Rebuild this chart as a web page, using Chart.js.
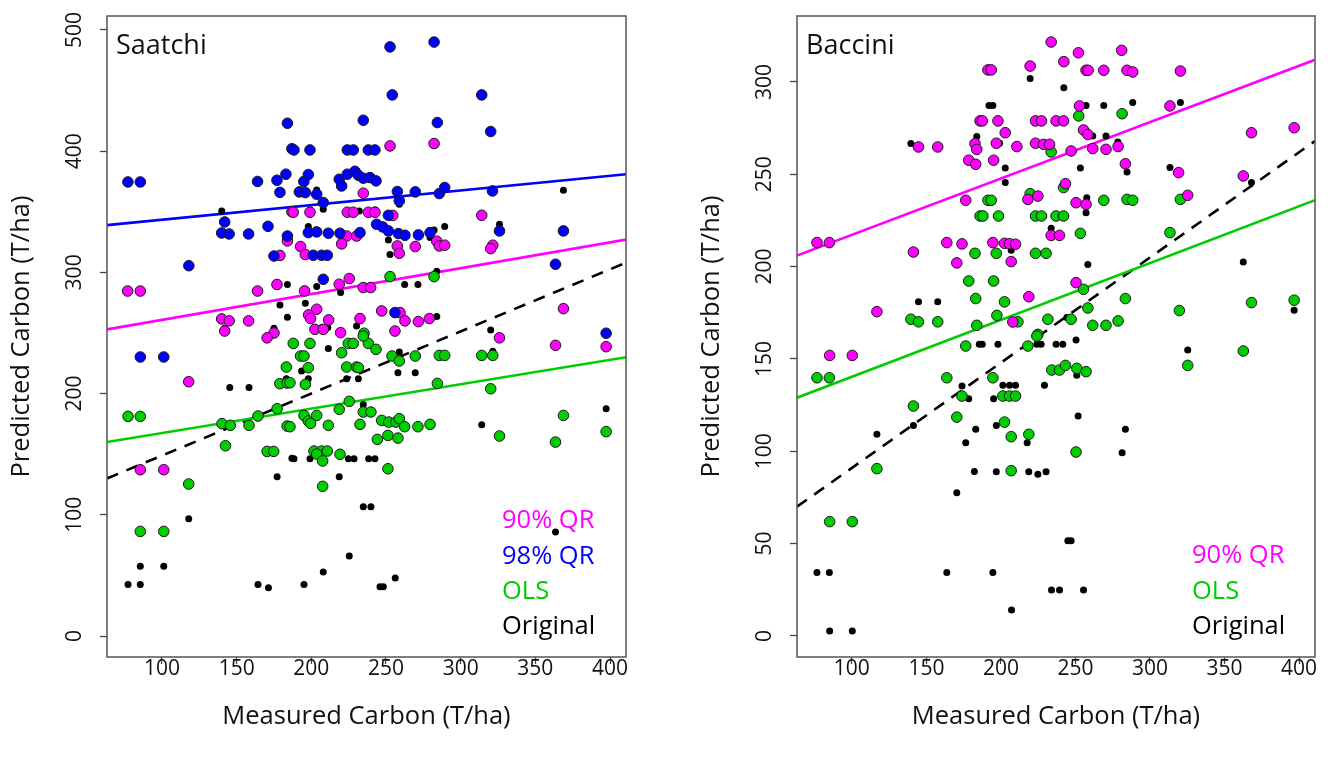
<!DOCTYPE html>
<html>
<head>
<meta charset="utf-8">
<script src="https://cdn.jsdelivr.net/npm/chart.js@4.4.1/dist/chart.umd.min.js"></script>
<style>
  html, body { margin: 0; padding: 0; background: #fff; }
  .panel { position: absolute; top: 0; height: 760px; }
  #leftPanel { left: 0; width: 668px; }
  #rightPanel { left: 690px; width: 647px; }
</style>
</head>
<body>
<div class="panel" id="leftPanel"><canvas id="saatchiChart"></canvas></div>
<div class="panel" id="rightPanel"><canvas id="bacciniChart"></canvas></div>
<script>
const FONT = "'Open Sans', 'DejaVu Sans', sans-serif";

// tick labels
const xTicks = [100, 150, 200, 250, 300, 350, 400];
const saatchiYTicks = [0, 100, 200, 300, 400, 500];
const bacciniYTicks = [0, 50, 100, 150, 200, 250, 300];

// axis ranges (R style 4% padding)
const xRange = [63.2, 410.7];
const saatchiYRange = [-17.3, 511.5];
const bacciniYRange = [-11.4, 335.7];

// fitted lines: predicted value at left and right edge of x range
const saatchiQR98Line = [339, 381];
const saatchiQR90Line = [253, 327];
const saatchiOLSLine = [160, 230];
const saatchiOrigLine = [130, 308];
const bacciniQR90Line = [206, 312];
const bacciniOLSLine = [129, 236];
const bacciniOrigLine = [70, 268];

// Saatchi panel points [measured, predicted]
const saatchiQR98 = [[77.2,374.6],[85.5,374.6],[164,375],[177,376],[183,381],[179,366],[184,423],[187,402],[142,341.6],[140,332.5],[145,331.7],[158,331.7],[171,338],[184,330],[175,313.5],[118,305.5],
  [252.7,486],[282.2,490],[254.2,446.4],[234.8,425.5],[284.4,423.6],[188.4,401],[199.1,401],[224.1,401],[228.1,401],[238.2,401],[242.6,401],
  [198,380.7],[195,375],[192,366.4],[196,365.8],[203.6,364.5],[208,357.6],[218.7,376.8],[224.1,381],[229.2,383.4],[231.5,380.1],[234.8,377.7],[239.3,378.2],[243.3,375.5],[220.3,371.3],[257.6,366.7],[258.9,359],[269.6,366.4],[285.7,365],[289.3,370],[251.6,347.1],[243.7,339.7],[247.8,337.5],[251.6,334.2],[258.3,332],[262.7,330.6],[198,332.8],[203.6,333.4],[211.4,332.3],[219.2,332.3],[232.6,332.8],[271.7,330.9],[279.5,332.8],[201.3,314.1],[206.9,314.1],[210.7,314.1],[208,294.3],[256,266.8],
  [314.1,446.4],[320.1,416.2],[321.3,367.2],[326,334.2],[368.8,334.2],[363.5,306.7],[397.4,249.8],[85.5,230.2],[101.2,230.2]];

const saatchiQR90 = [[77,284.6],[85.5,284.6],[164,284.6],[177,290],[187,350],[184,326],[179,314],[140,261.6],[145,260],[158,260],[142,251.6],[175,250],[170.4,246],
  [252.7,404.3],[282.2,406.3],[234.8,365.3],[187.9,349.6],[199.1,349.6],[224.1,349.6],[228.1,349.6],[238.2,349.6],[242.6,349.6],[254.5,347],[223.7,330],[230.3,330],[192.8,321.3],[196,314.7],[220.3,323.5],[257.6,321.8],[258.9,315.8],[269.6,321.3],[284,325.7],[285.7,321.8],[289.3,322.4],[218.7,290.2],[225.4,294.9],[195.5,284.7],[234.8,287.5],[239.7,287.5],[203.6,269.6],[198.2,264.9],[199.5,261.9],[211.6,260.8],[232.6,261.9],[247.1,268.2],[259.4,266.8],[262.7,260],[271.7,259.4],[279,261.9],[219.6,250.3],[202.4,253],[208,253],[256,251.6],
  [314.1,347.1],[321.5,322.4],[320.1,319.6],[368.8,270.1],[326,246],[363.5,239.8],[397.4,238.7],[117.9,209.8],[85.5,137.2],[101.2,137.2]];

const saatchiOLS = [[252.7,296.5],[282.2,296.5],[235.3,249.8],
  [183.3,221.9],[178.9,208.2],[183.8,208.7],[77.3,181.2],[85.5,181.2],[140.2,175.2],[145.8,173.8],[158.3,173.8],[164.3,181.5],[177.1,187.5],[183.8,173.2],[142.5,157],[170.4,152.3],[174.8,152.3],[117.9,125.4],[85.5,86.3],[101.2,86.3],
  [187.9,241.4],[199.1,241.4],[220.3,233.7],[224.8,241.4],[228.1,241.4],[238.2,241.4],[243.3,236.5],[234.8,247.5],[192.8,231],[195.1,231],[198,221.4],[223.7,221.9],[230.3,221.9],[231.5,221.4],[254,231],[258.9,226.9],[269.6,231],[285.7,231.5],[289.3,231.5],[185.7,209],[196,207.6],[284.4,208.4],[225.4,193.6],[218.7,187],[195.1,182],[198,177.4],[199.5,175.4],[203.6,182],[211.4,173.8],[234.8,184.8],[239.9,184.8],[232.6,174.6],[247.1,177.9],[251.8,176.5],[256.7,176.5],[258.9,179.3],[262.5,172.7],[271.4,172.7],[279.5,174.6],[185.7,172.7],[244.2,162.2],[251.3,165.5],[258,163.3],[201.8,152.6],[206.9,152.6],[210.7,152.6],[203.6,150.1],[207.6,144.4],[219.2,149.9],[251.3,138],[207.6,123.5],
  [314.1,231.5],[321.5,231.5],[320.1,204],[368.8,182],[326,165],[363.5,160],[397.4,168.6]];

const saatchiOriginal = [[140,350.7],[184,290],[179,273],[184,263],[142,254],[175,254],
  [203.6,368],[258.9,356.2],[199.1,351.5],[208,352.1],[232.1,350.7],[242.9,351.5],[198,337.8],[282.2,335],[289.3,337.8],[279.5,328.7],[251.6,326.8],[258.3,317.7],[252.7,314.7],[203.6,288.3],[219.6,283.3],[262.5,289.9],[271.4,289.9],[196,274.5],[284,300.9],[284,263.5],[202,254.5],[207,254.5],[211,254.5],[230.3,255.8],
  [368.8,367.8],[326,339.7],[320.1,252.5],
  [183.3,212.3],[145.4,205.1],[158.3,205.1],[187,146.6],[177.1,131.4],[117.9,96.8],[85.5,57.5],[101.2,57.5],[77.3,42.6],[85.5,42.6],[164.3,42.6],[171.3,39.9],
  [211.4,237.3],[258.9,234.3],[193.5,218.6],[198,212.3],[223.7,212.3],[231.5,212.3],[258,217.2],[269.6,217.2],[234.8,191.1],[252.7,175.4],[243.7,162.2],[188.4,146.3],[199.1,146.3],[224.8,146.3],[228.6,146.3],[238.4,146.3],[242.6,146.3],[218.7,131.4],[234.8,106.7],[239.9,106.7],[225.4,66],[208,52.8],[195.1,42.6],[246,40.7],[248.2,40.7],[256.2,47.8],
  [321.5,234.9],[314.1,174.3],[397.4,187.5],[363.5,85.8]];

// Baccini panel points [measured, predicted]
const bacciniQR90 = [[186,278.9],[144.7,264.8],[157.6,264.8],[182.6,266.6],[183.8,263.5],[178.4,257.6],[183.1,255.4],[176.4,235.9],[76.6,213],[84.9,213],[141.3,207.9],[163.7,213],[173.9,212.3],[170.4,202],[116.8,175.6],
  [233.7,321.6],[252,315.8],[281,317.1],[242.2,311],[219.6,308.6],[191.3,306.5],[193.5,306.5],[257.1,306.3],[258.5,306.3],[269,306.3],[284.6,306.3],[288.4,305.4],[187.5,278.9],[198,278.9],[223.2,278.9],[227.2,278.9],[237,278.9],[242,278.9],[252.7,287],[202.9,272.5],[255.4,274],[258.3,271.5],[196.9,266.8],[210.7,265],[223.2,266.8],[228.6,266.2],[232.6,266.2],[247.1,262.6],[261.6,263.9],[270.5,263.5],[278.6,265],[195.1,257.6],[283.5,255.7],[243.3,244.9],[218.1,236.4],[224.8,238.2],[250.4,234.6],[257.1,233.7],[233.7,216.9],[239.3,216.9],[194.6,213],[202.4,212.6],[205.8,212.4],[209.8,212.1],[206.9,202.7],[250.4,191.3],[218.7,183.7],[208,170],
  [320.4,305.9],[313.4,287],[368.1,272.5],[396.7,275.2],[319.2,250.9],[362.6,249.1],[325.3,238.6],
  [85.1,151.9],[100.3,151.9]];

const bacciniOLS = [[186,227.4],[182.6,207.2],[178.4,192.2],[183.1,182.7],[139.6,171.5],[144.7,170.1],[157.6,170.1],[183.8,168.2],
  [252.2,281.6],[281.3,282.8],[233.7,262.1],[242,242.8],[219.6,239.5],[191.3,235.9],[193.5,235.9],[269,235.9],[284.6,236.4],[288.4,235.9],[187.9,227.4],[198.4,227.4],[223.2,227.4],[227.2,227.4],[237,227.4],[242,227.4],[253.3,218],[196.9,207.2],[223.2,207.2],[230.3,207.2],[195.1,192.2],[255.4,187.7],[283.5,182.7],[202.4,180.9],[258.3,177.6],[197.3,173.6],[211.4,170.1],[231.5,171.5],[247.1,171.5],[261.6,168.2],[270.5,168.2],[278.6,170.6],[224.8,163.3],
  [320.4,236.4],[313.4,218.4],[368.1,180.5],[396.7,181.8],[319.7,176.2],
  [176.4,157],[76.6,139.8],[84.9,139.8],[163.7,139.8],[173.9,129.9],[141.3,124.5],[170.4,118.5],[116.8,90.6],[85.1,61.9],[100.3,61.9],
  [224.1,162.4],[218.1,157],[234.1,144],[239.3,144],[243.3,146.5],[250.9,144.9],[257.1,143.1],[194.6,139.8],[201.3,129.9],[205.8,129.9],[209.8,129.9],[202.4,115.8],[206.9,107.9],[218.7,109.2],[250.4,99.6],[206.9,89.5],
  [325.3,146.5],[362.6,154.3]];

const bacciniOriginal = [[139.6,266.6],[183.8,270.4],[144.7,180.9],[157.6,180.9],
  [219.6,301.8],[242.2,296.9],[192,287.3],[194.6,287.3],[257.1,287.3],[269,287.3],[288.4,288.8],[199.1,266.8],[210.7,265.7],[232.6,266.8],[261.6,270.7],[270.5,270.7],[278.4,267.5],[202.9,253.4],[202.9,245.5],[253.3,253.4],[284.6,251.2],[257.6,237.3],[257.1,229.2],[233.7,220.7],[206.9,208.8],[258.3,201.2],[244.2,172.4],
  [320.4,288.8],[313.4,253.6],[368.1,245.5],[362.6,202.5],[319.7,176.2],[396.7,176.4],
  [185.5,157.9],[173.9,135.3],[178.4,128.5],[141.3,114],[116.8,109.2],[183.1,111.9],[176.4,104.6],[182.2,89],[170.4,77.6],[76.6,34.3],[84.9,34.3],[163.7,34.3],[85.1,2.7],[100.3,2.7],
  [187.5,157.9],[198,157.9],[224.1,157.9],[227,157.9],[237,157.9],[241.5,157.9],[250.4,160.2],[201.3,135.7],[205.8,135.7],[209.8,135.7],[229.2,135.7],[250.9,141.1],[195.1,128.5],[251.8,119.1],[196.9,114],[217.6,104.6],[283.5,111.9],[281.3,99.2],[196.9,88.9],[218.7,88.9],[224.8,87.5],[230.3,88.9],[244.9,51.6],[247.1,51.6],[194.6,34.3],[233.9,24.9],[239.3,24.9],[255.4,24.9],[207.1,14],[325.3,154.8]];

const MAGENTA = '#ff00ff', BLUE = '#0000ff', GREEN = '#00cd00', BLACK = '#000000';

const toXY = pts => pts.map(p => ({ x: p[0], y: p[1] }));
const lineData = ends => [{ x: xRange[0], y: ends[0] }, { x: xRange[1], y: ends[1] }];

function pointSet(label, pts, color, order) {
  return {
    type: 'scatter', label, data: toXY(pts), order,
    backgroundColor: color, borderColor: '#1a1a1a', borderWidth: 1,
    pointRadius: 5.3
  };
}
function origSet(pts) {
  return {
    type: 'scatter', label: 'Original', data: toXY(pts), order: 50,
    backgroundColor: BLACK, borderColor: BLACK, borderWidth: 0,
    pointRadius: 3.5
  };
}
function lineSet(label, ends, color, dash) {
  return {
    type: 'line', label, data: lineData(ends), order: 100,
    borderColor: color, borderWidth: 2.6, borderDash: dash || [],
    pointRadius: 0, fill: false, tension: 0
  };
}

// draws box, tick labels, titles and text legend like R base graphics
const rFrame = {
  id: 'rFrame',
  afterDraw(chart, args, opts) {
    const { ctx, chartArea: a, scales } = chart;
    ctx.save();
    ctx.strokeStyle = '#555';
    ctx.lineWidth = 1.5;
    ctx.strokeRect(a.left, a.top, a.right - a.left, a.bottom - a.top);

    ctx.fillStyle = '#111';
    ctx.font = `21px ${FONT}`;
    ctx.textAlign = 'center';
    ctx.textBaseline = 'middle';
    opts.xTicks.forEach(v => ctx.fillText(String(v), scales.x.getPixelForValue(v), a.bottom + 12));
    opts.yTicks.forEach(v => {
      ctx.save();
      ctx.translate(a.left - 32, scales.y.getPixelForValue(v));
      ctx.rotate(-Math.PI / 2);
      ctx.fillText(String(v), 0, 0);
      ctx.restore();
    });

    ctx.font = `25.5px ${FONT}`;
    ctx.fillText('Measured Carbon (T/ha)', (a.left + a.right) / 2, 717);
    ctx.save();
    ctx.translate(22, (a.top + a.bottom) / 2);
    ctx.rotate(-Math.PI / 2);
    ctx.fillText('Predicted Carbon (T/ha)', 0, 0);
    ctx.restore();

    ctx.textAlign = 'left';
    ctx.font = `27px ${FONT}`;
    ctx.fillText(opts.title, a.left + 9, a.top + 30);

    ctx.font = `25.5px ${FONT}`;
    opts.legend.forEach((item, i) => {
      ctx.fillStyle = item[1];
      ctx.fillText(item[0], opts.legendX, opts.legendY + i * 35.4);
    });
    ctx.restore();
  }
};

function makeOptions(yRange, yTicks, rightPad, frame) {
  return {
    responsive: true,
    maintainAspectRatio: false,
    animation: false,
    events: [],
    layout: { padding: { top: 16, right: rightPad, left: 0, bottom: 0 } },
    plugins: { legend: { display: false }, tooltip: { enabled: false }, rFrame: frame },
    scales: {
      x: {
        type: 'linear', min: xRange[0], max: xRange[1],
        afterFit: s => { s.height = 103; },
        afterBuildTicks: s => { s.ticks = xTicks.map(v => ({ value: v })); },
        ticks: { display: false },
        grid: { drawOnChartArea: false, drawTicks: true, tickLength: 7, tickColor: '#444', tickWidth: 1.3 },
        border: { display: false }
      },
      y: {
        type: 'linear', min: yRange[0], max: yRange[1],
        afterFit: s => { s.width = 107; },
        afterBuildTicks: s => { s.ticks = yTicks.map(v => ({ value: v })); },
        ticks: { display: false },
        grid: { drawOnChartArea: false, drawTicks: true, tickLength: 7, tickColor: '#444', tickWidth: 1.3 },
        border: { display: false }
      }
    }
  };
}

new Chart(document.getElementById('saatchiChart'), {
  type: 'scatter',
  data: {
    datasets: [
      lineSet('98% QR fit', saatchiQR98Line, BLUE),
      lineSet('90% QR fit', saatchiQR90Line, MAGENTA),
      lineSet('OLS fit', saatchiOLSLine, GREEN),
      lineSet('Original fit', saatchiOrigLine, BLACK, [12, 9]),
      origSet(saatchiOriginal),
      pointSet('OLS', saatchiOLS, GREEN, 40),
      pointSet('90% QR', saatchiQR90, MAGENTA, 30),
      pointSet('98% QR', saatchiQR98, BLUE, 20)
    ]
  },
  options: makeOptions(saatchiYRange, saatchiYTicks, 42, {
    title: 'Saatchi', xTicks, yTicks: saatchiYTicks,
    legendX: 502, legendY: 521,
    legend: [['90% QR', MAGENTA], ['98% QR', BLUE], ['OLS', GREEN], ['Original', BLACK]]
  }),
  plugins: [rFrame]
});

new Chart(document.getElementById('bacciniChart'), {
  type: 'scatter',
  data: {
    datasets: [
      lineSet('90% QR fit', bacciniQR90Line, MAGENTA),
      lineSet('OLS fit', bacciniOLSLine, GREEN),
      lineSet('Original fit', bacciniOrigLine, BLACK, [12, 9]),
      origSet(bacciniOriginal),
      pointSet('OLS', bacciniOLS, GREEN, 40),
      pointSet('90% QR', bacciniQR90, MAGENTA, 30)
    ]
  },
  options: makeOptions(bacciniYRange, bacciniYTicks, 22, {
    title: 'Baccini', xTicks, yTicks: bacciniYTicks,
    legendX: 502, legendY: 556,
    legend: [['90% QR', MAGENTA], ['OLS', GREEN], ['Original', BLACK]]
  }),
  plugins: [rFrame]
});
</script>
</body>
</html>
